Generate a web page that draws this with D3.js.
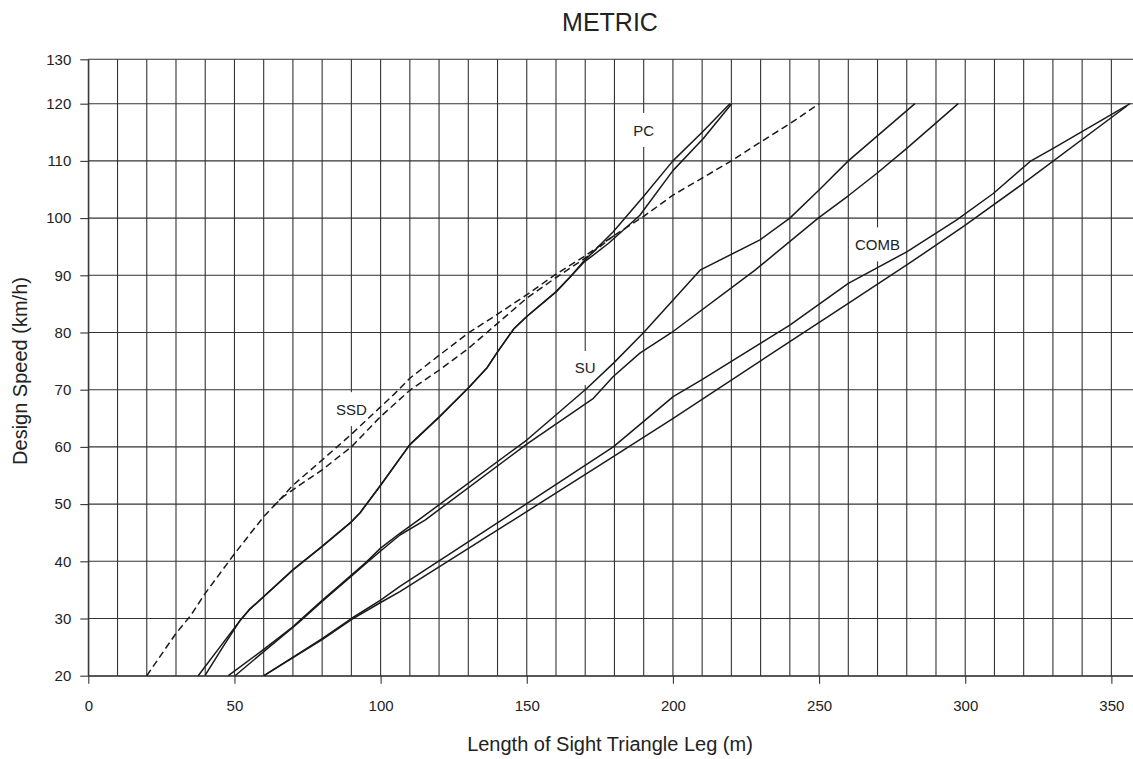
<!DOCTYPE html>
<html><head><meta charset="utf-8">
<script src="https://cdn.jsdelivr.net/npm/d3@7"></script>
<style>
body{margin:0;background:#fff}
svg{display:block}
text{font-family:"Liberation Sans",Arial,Helvetica,sans-serif;fill:#222}
</style>
</head><body>
<svg id="c" width="1133" height="759"></svg>
<script>
// ---- data (Length of sight triangle leg in m, Design speed in km/h) ----
const chartTitle = "METRIC";
const xTitle = "Length of Sight Triangle Leg (m)";
const yTitle = "Design Speed (km/h)";
const xTicks = [0, 50, 100, 150, 200, 250, 300, 350];
const yTickLabels = [20, 30, 40, 50, 60, 70, 80, 90, 100, 110, 120, 130];
const yTopValue = 127.76; // value where the top border (labelled 130) sits

const ssdUpper = [[20,20],[30,27.4],[35,30.5],[40,34.4],[50,41.3],[60,47.8],[65,50.5],[70,53.3],[80,57.7],[90,62.2],[100,67],[105,69.4],[110,72],[120,76],[130,79.9],[140,83.2],[150,86.6],[160,90.2],[170,93.4],[180,97],[190,100.3],[200,104],[210,107],[220,110],[230,113.3],[240,116.5],[250,120]];
const ssdLower = [[63.3,49.6],[66.7,51.3],[70,52.5],[80,56],[90,60],[100,65.3],[110,69.9],[120,73.4],[130,77.2],[140,81.6],[150,86],[160,89.6],[170,93],[180,97]];
const pc1 = [[37.6,20],[45,25],[52,29.7],[55,31.5],[70,38.5],[80,42.6],[90,46.9],[93,48.5],[100,53.3],[110,60.4],[120,65.2],[130,70.3],[136.5,73.9],[140,76.6],[145.5,80.6],[150,82.8],[160,87.1],[165,89.8],[169.4,92.4],[179.6,97.6],[190,103.8],[200,110],[210,115],[219.5,120]];
const pc2 = [[39.9,20],[46,25],[52,29.7],[55,31.5],[70,38.5],[80,42.6],[90,46.9],[93,48.5],[100,53.3],[110,60.4],[120,65.2],[130,70.3],[136.5,73.9],[140,76.6],[145.5,80.6],[150,82.8],[160,87.1],[165,89.8],[169.4,92.2],[178,95.6],[188.7,100.5],[200,108.3],[210.4,113.9],[220.1,120]];
const su1 = [[47.9,20],[60,24.6],[70.1,28.6],[72.4,29.7],[80,33.2],[90,37.6],[95.2,39.9],[100,42.3],[106.6,44.9],[112.9,47.2],[150,61.2],[170.5,70.2],[179.6,74.6],[190,80],[209.3,90.9],[229.8,96.2],[240,100],[250,104.9],[260,110],[282.8,120]];
const su2 = [[50.2,20],[60,24.2],[70.1,28.5],[72.4,29.5],[80,33],[90,37.4],[95.2,39.7],[100,41.8],[106.6,44.6],[115.2,47.2],[150,60.5],[172.8,68.5],[179.6,72.3],[188.7,76.4],[199.6,80],[228.1,90.9],[249.7,100],[260,103.9],[269.7,107.8],[280,112.2],[297.6,120]];
const comb1 = [[60.1,20],[80,26.5],[90,30],[100,33.2],[106.6,35.6],[141.4,47.2],[179.6,60],[200.1,68.8],[209.8,71.7],[240,81.3],[260,88.6],[280,94.1],[297.1,99.7],[309.6,104.3],[322.2,109.9],[330.1,112.2],[356.4,120]];
const comb2 = [[60.1,20],[80,26.3],[90,29.8],[100,32.8],[106.6,34.7],[145.4,47.2],[179.6,58.3],[200.1,65],[240,78.4],[260,85.1],[280,91.8],[299.3,98.5],[320,106.1],[355.3,119.6]];

const solidSeries = [pc1, pc2, su1, su2, comb1, comb2];
const dashedSeries = [ssdUpper, ssdLower];

const labelNames = ["PC", "SU", "COMB", "SSD"];
const labelX = [190, 170, 270, 90];
const labelY = [115.4, 73.8, 95.4, 66.6];

// ---- drawing ----
const svg = d3.select("#c");
const x = d3.scaleLinear().domain([0, 360]).range([88.3, 1140.6]);
const y = d3.scaleLinear().domain([20, yTopValue]).range([675.7, 59.3]);

const gridColor = "#333";
const g = svg.append("g");

// vertical grid lines every 10 m
g.selectAll("line.v").data(d3.range(0, 361, 10)).join("line")
  .attr("x1", d => x(d)).attr("x2", d => x(d))
  .attr("y1", y(yTopValue)).attr("y2", y(20))
  .attr("stroke", gridColor).attr("stroke-width", 1.1);

// horizontal grid lines
const yGrid = yTickLabels.slice(0, -1).concat([yTopValue]);
g.selectAll("line.h").data(yGrid).join("line")
  .attr("x1", x(0)).attr("x2", x(360))
  .attr("y1", d => y(d)).attr("y2", d => y(d))
  .attr("stroke", gridColor).attr("stroke-width", 1.1);

// axes
const xAxis = d3.axisBottom(x).tickValues(xTicks).tickSize(8).tickSizeOuter(0).tickPadding(17);
const yAxis = d3.axisLeft(y)
  .tickValues(yGrid).tickSize(8).tickSizeOuter(0).tickPadding(9)
  .tickFormat((d, i) => yTickLabels[i]);

const gx = svg.append("g").attr("transform", `translate(0,${y(20)})`).call(xAxis);
const gy = svg.append("g").attr("transform", `translate(${x(0)},0)`).call(yAxis);
[gx, gy].forEach(a => {
  a.select(".domain").attr("stroke", gridColor).attr("stroke-width", 1.1);
  a.selectAll(".tick line").attr("stroke", gridColor).attr("stroke-width", 1.1);
  a.selectAll(".tick text").attr("font-size", 15).attr("fill", "#222")
    .style("font-family", '"Liberation Sans", Arial, sans-serif');
});

// curve labels with white background breaking the grid line
const lg = svg.append("g");
labelNames.forEach((name, i) => {
  const t = lg.append("text")
    .attr("x", x(labelX[i])).attr("y", y(labelY[i]))
    .attr("text-anchor", "middle").attr("dominant-baseline", "central")
    .attr("font-size", 15).text(name);
  const bb = t.node().getBBox();
  lg.insert("rect", "text")
    .attr("x", bb.x - 3).attr("y", bb.y + bb.height / 2 - 17)
    .attr("width", bb.width + 6).attr("height", 34)
    .attr("fill", "#fff");
});

// series
const line = d3.line().x(d => x(d[0])).y(d => y(d[1]));
svg.append("g").selectAll("path").data(solidSeries).join("path")
  .attr("d", line).attr("fill", "none").attr("stroke", "#1a1a1a")
  .attr("stroke-width", 1.5).attr("stroke-linejoin", "round");
svg.append("g").selectAll("path").data(dashedSeries).join("path")
  .attr("d", line).attr("fill", "none").attr("stroke", "#1a1a1a")
  .attr("stroke-width", 1.5).attr("stroke-dasharray", "7,4");

// titles
svg.append("text").attr("x", 610).attr("y", 31).attr("text-anchor", "middle")
  .attr("font-size", 25).text(chartTitle);
svg.append("text").attr("x", 610).attr("y", 751).attr("text-anchor", "middle")
  .attr("font-size", 20).text(xTitle);
svg.append("text").attr("transform", "translate(26.5,371) rotate(-90)")
  .attr("text-anchor", "middle").attr("font-size", 20).text(yTitle);
</script>
</body></html>
